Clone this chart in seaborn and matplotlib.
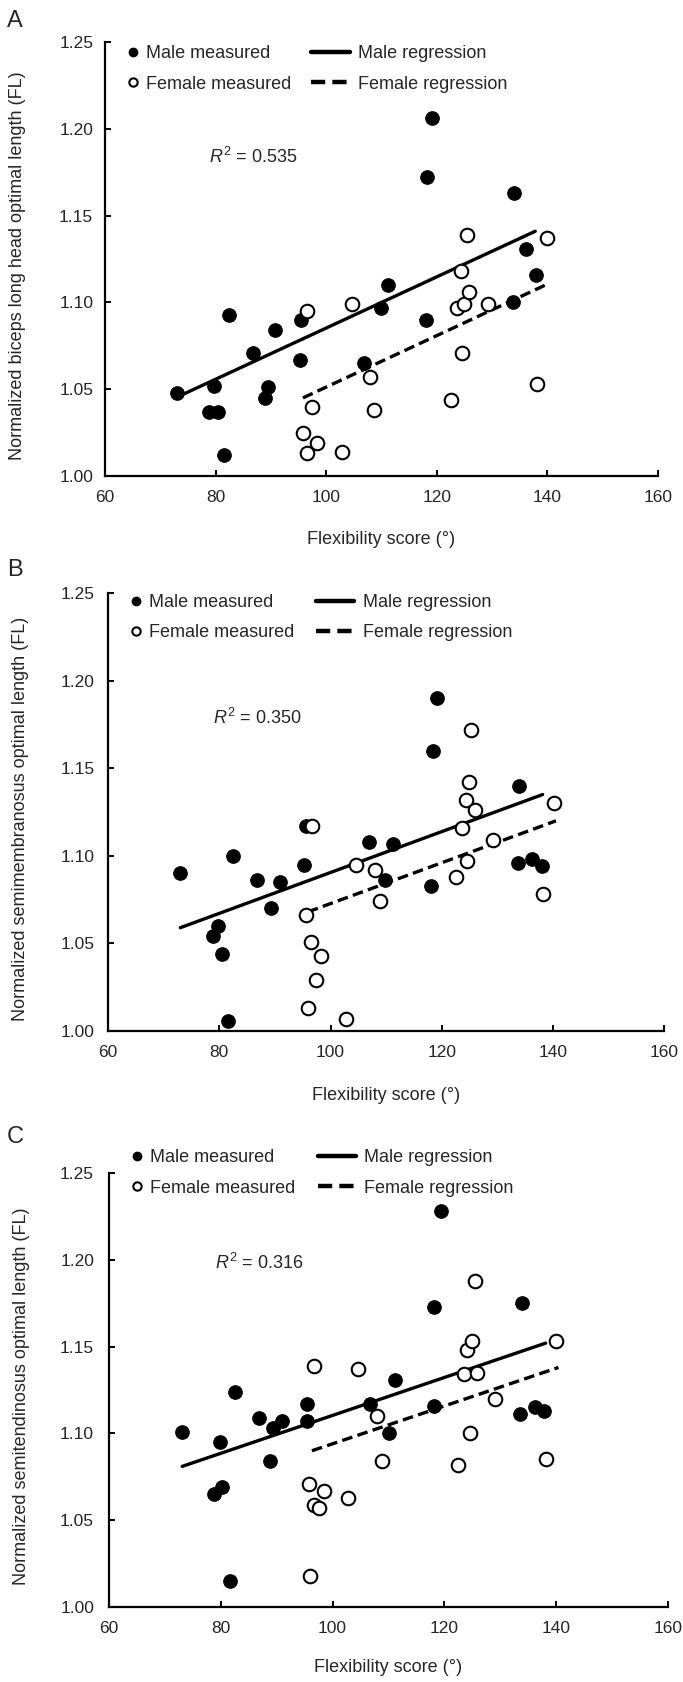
import seaborn as sns
import matplotlib.pyplot as plt
from matplotlib.lines import Line2D

# ---- datos ----
# Panel A: biceps long head
male_x_a = [73.1, 78.9, 79.8, 80.4, 81.6, 82.4, 86.7, 88.9, 89.4, 90.8, 95.2, 95.5,
            106.8, 109.9, 111.1, 118.0, 118.3, 119.2, 133.7, 133.9, 136.1, 138.0]
male_y_a = [1.048, 1.037, 1.052, 1.037, 1.012, 1.093, 1.071, 1.045, 1.051, 1.084, 1.067, 1.090,
            1.065, 1.097, 1.110, 1.090, 1.172, 1.206, 1.100, 1.163, 1.131, 1.116]
female_x_a = [95.8, 96.6, 96.6, 97.5, 98.4, 102.8, 104.7, 107.9, 108.7, 122.5,
              123.7, 124.3, 124.5, 124.9, 125.4, 125.8, 129.2, 138.2, 140.0]
female_y_a = [1.025, 1.095, 1.013, 1.040, 1.019, 1.014, 1.099, 1.057, 1.038, 1.044,
              1.097, 1.118, 1.071, 1.099, 1.139, 1.106, 1.099, 1.053, 1.137]
male_fit_x_a = [73.4, 137.8]
male_fit_y_a = [1.046, 1.141]
female_fit_x_a = [95.8, 140.3]
female_fit_y_a = [1.045, 1.111]

# Panel B: semimembranosus
male_x_b = [73.0, 78.9, 79.8, 80.5, 81.6, 82.5, 86.8, 89.3, 90.9, 95.3, 95.5,
            106.9, 109.8, 111.2, 118.0, 118.4, 119.2, 133.7, 133.8, 136.2, 137.9]
male_y_b = [1.090, 1.054, 1.060, 1.044, 1.006, 1.100, 1.086, 1.070, 1.085, 1.095, 1.117,
            1.108, 1.086, 1.107, 1.083, 1.160, 1.190, 1.096, 1.140, 1.098, 1.094]
female_x_b = [95.5, 95.9, 96.5, 96.7, 97.4, 98.3, 102.7, 104.5, 108.0, 108.8,
              122.5, 123.7, 124.3, 124.5, 124.8, 125.2, 125.9, 129.1, 138.1, 140.1]
female_y_b = [1.066, 1.013, 1.051, 1.117, 1.029, 1.043, 1.007, 1.095, 1.092, 1.074,
              1.088, 1.116, 1.132, 1.097, 1.142, 1.172, 1.126, 1.109, 1.078, 1.130]
male_fit_x_b = [73.0, 138.1]
male_fit_y_b = [1.059, 1.135]
female_fit_x_b = [95.9, 140.5]
female_fit_y_b = [1.068, 1.120]

# Panel C: semitendinosus
male_x_c = [73.1, 78.7, 79.9, 80.3, 81.7, 82.5, 86.8, 88.8, 89.4, 90.9, 95.4, 95.5,
            106.7, 110.1, 111.1, 118.1, 118.2, 119.3, 133.6, 133.8, 136.2, 137.9]
male_y_c = [1.101, 1.065, 1.095, 1.069, 1.015, 1.124, 1.109, 1.084, 1.103, 1.107, 1.107, 1.117,
            1.117, 1.100, 1.131, 1.116, 1.173, 1.228, 1.111, 1.175, 1.115, 1.113]
female_x_c = [95.7, 95.9, 96.6, 96.7, 97.6, 98.4, 102.7, 104.5, 108.0, 108.9,
              122.5, 123.5, 124.1, 124.5, 124.9, 125.4, 125.9, 129.1, 138.2, 140.0]
female_y_c = [1.071, 1.018, 1.059, 1.139, 1.057, 1.067, 1.063, 1.137, 1.110, 1.084,
              1.082, 1.134, 1.148, 1.100, 1.153, 1.188, 1.135, 1.120, 1.085, 1.153]
male_fit_x_c = [73.1, 138.1]
male_fit_y_c = [1.081, 1.152]
female_fit_x_c = [96.3, 140.4]
female_fit_y_c = [1.090, 1.138]

letters = ["A", "B", "C"]
ylabels = ["Normalized biceps long head optimal length (FL)",
           "Normalized semimembranosus optimal length (FL)",
           "Normalized semitendinosus optimal length (FL)"]
r2_labels = ["0.535", "0.350", "0.316"]
x_ticks = [60, 80, 100, 120, 140, 160]
y_ticks = [1.00, 1.05, 1.10, 1.15, 1.20, 1.25]

# ---- estilo ----
sns.set_style("ticks")
plt.rcParams['font.family'] = ['Liberation Sans', 'DejaVu Sans']
plt.rcParams['mathtext.fontset'] = 'custom'
plt.rcParams['mathtext.rm'] = 'Liberation Sans'
plt.rcParams['mathtext.it'] = 'Liberation Sans:italic'

fig = plt.figure(figsize=(6.83, 16.82), dpi=100)

# posiciones de los ejes (fraccion de figura)
boxes = [[0.1537, 0.7170, 0.8097, 0.2580],
         [0.1581, 0.3870, 0.8148, 0.2604],
         [0.1596, 0.0446, 0.8185, 0.2580]]
# leyenda, R2 y etiquetas por panel
leg_y = [1.2345, 1.236, 1.250]
r2_y = [1.184, 1.179, 1.198]
ypad = [8.5, 9.8, 10.8]
xlab_y = [-0.127, -0.128, -0.121]
letter_y = [1 - 21 / 1682, 1 - 570 / 1682, 1 - 1137 / 1682]

panels = [
    (male_x_a, male_y_a, female_x_a, female_y_a, male_fit_x_a, male_fit_y_a, female_fit_x_a, female_fit_y_a),
    (male_x_b, male_y_b, female_x_b, female_y_b, male_fit_x_b, male_fit_y_b, female_fit_x_b, female_fit_y_b),
    (male_x_c, male_y_c, female_x_c, female_y_c, male_fit_x_c, male_fit_y_c, female_fit_x_c, female_fit_y_c),
]

dash = (0, (3.2, 1.6))

for i, (mx, my, fx, fy, mfx, mfy, ffx, ffy) in enumerate(panels):
    ax = fig.add_axes(boxes[i])

    sns.lineplot(x=mfx, y=mfy, ax=ax, color="black", linewidth=2.4)
    sns.lineplot(x=ffx, y=ffy, ax=ax, color="black", linewidth=2.4, linestyle=dash)
    sns.scatterplot(x=mx, y=my, ax=ax, color="black", edgecolor="black", s=95, linewidth=0.8, zorder=3)
    sns.scatterplot(x=fx, y=fy, ax=ax, color="white", edgecolor="black", s=95, linewidth=1.5, zorder=3)

    ax.set_xlim(60, 160)
    ax.set_ylim(1.00, 1.25)
    ax.set_xticks(x_ticks)
    ax.set_yticks(y_ticks)
    ax.set_yticklabels([f"{v:.2f}" for v in y_ticks])
    ax.tick_params(direction="in", length=4, width=1.4, labelsize=12.5, color="black")
    ax.tick_params(axis="x", pad=10)
    ax.tick_params(axis="y", pad=ypad[i])
    for sp in ["left", "bottom"]:
        ax.spines[sp].set_linewidth(1.6)
        ax.spines[sp].set_color("black")
    sns.despine(ax=ax)

    ax.set_xlabel("Flexibility score (°)", fontsize=13)
    ax.set_ylabel(ylabels[i], fontsize=13)
    ax.xaxis.set_label_coords(0.5, xlab_y[i])
    ax.yaxis.set_label_coords(-0.142, 0.485)

    ax.text(78.9, r2_y[i], r"$R^2$" + " = " + r2_labels[i], fontsize=13, va="center", ha="left")

    # leyenda en dos partes (marcadores y lineas)
    pts = [Line2D([], [], marker="o", ls="", color="black", markersize=6),
           Line2D([], [], marker="o", ls="", color="black", markerfacecolor="white",
                  markersize=6, markeredgewidth=1.5)]
    lns = [Line2D([], [], color="black", lw=3.2),
           Line2D([], [], color="black", lw=3.2, ls=dash)]
    leg1 = ax.legend(pts, ["Male measured", "Female measured"], loc="center left",
                     bbox_to_anchor=(64.0, leg_y[i]), bbox_transform=ax.transData,
                     frameon=False, fontsize=13, handlelength=0.6, handletextpad=0.45,
                     borderpad=0, borderaxespad=0, labelspacing=0.75)
    ax.add_artist(leg1)
    ax.legend(lns, ["Male regression", "Female regression"], loc="center left",
              bbox_to_anchor=(97.3, leg_y[i]), bbox_transform=ax.transData,
              frameon=False, fontsize=13, handlelength=2.15, handletextpad=0.45,
              borderpad=0, borderaxespad=0, labelspacing=0.75)

    # letra del panel
    fig.text(0.022, letter_y[i], letters[i], fontsize=17, va="center", ha="center")

fig.savefig("out.png", dpi=100)
